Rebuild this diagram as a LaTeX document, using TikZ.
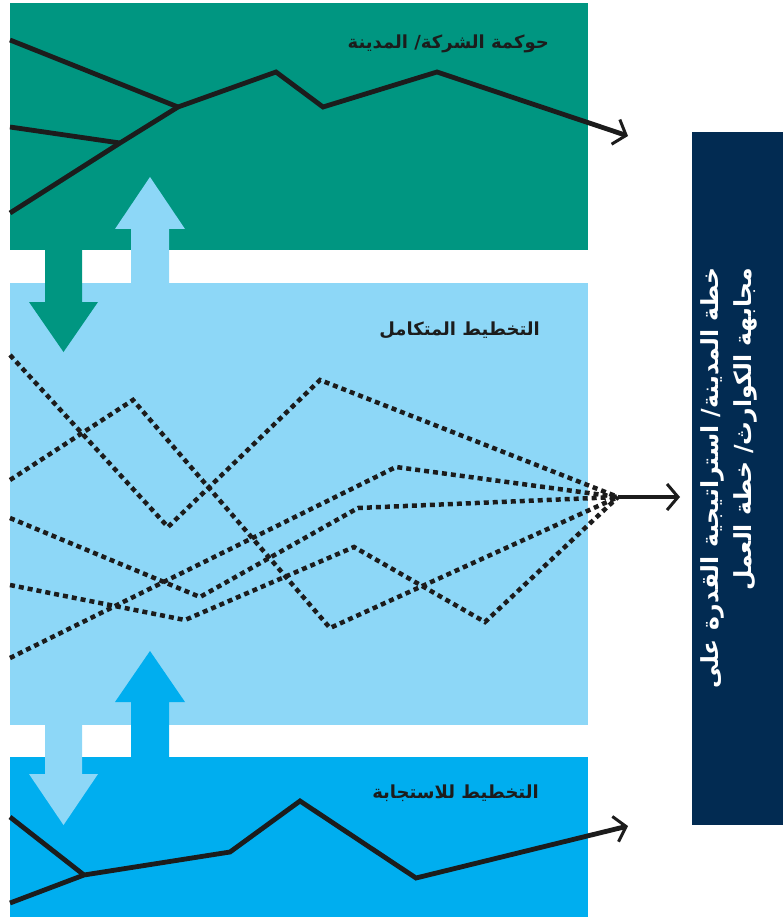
\documentclass[tikz,border=0pt]{standalone}
\usepackage{fontspec}
\usetikzlibrary{arrows.meta}
\newfontfamily\arabicfont[Script=Arabic]{DejaVu Sans}
\TeXXeTstate=1
\definecolor{govgreen}{HTML}{009681}
\definecolor{intblue}{HTML}{8DD7F7}
\definecolor{respblue}{HTML}{00AEEF}
\definecolor{navybox}{HTML}{022B52}
\definecolor{ink}{HTML}{1C1C1C}
\begin{document}
\begin{tikzpicture}[x=1pt,y=-1pt,
  solidpath/.style={draw=ink, line width=4.8pt},
  dashpath/.style={draw=ink, line width=4.5pt, dash pattern=on 5pt off 4pt},
  barbtip/.style={-{Straight Barb[length=11pt,width=26pt,line width=3pt]}},
  bandlabel/.style={font=\arabicfont\bfseries\fontsize{18}{20}\selectfont, text=ink, anchor=east, inner sep=0pt}
]
\useasboundingbox (0,0) rectangle (783,917);
% bands
\fill[govgreen] (10,3) rectangle (588,250);
\fill[intblue] (10,283) rectangle (588,725);
\fill[respblue] (10,757) rectangle (588,917);
\fill[navybox] (692,132) rectangle (783,825);
% block arrows
\fill[govgreen] (45,250) -- (82,250) -- (82,302) -- (98,302) -- (63.5,352) -- (29,302) -- (45,302) -- cycle;
\fill[intblue] (131,283) -- (169,283) -- (169,229) -- (185,229) -- (150,177) -- (115,229) -- (131,229) -- cycle;
\fill[respblue] (131,757) -- (169,757) -- (169,702) -- (185,702) -- (150,651) -- (115,702) -- (131,702) -- cycle;
\fill[intblue] (45,725) -- (82,725) -- (82,774) -- (98,774) -- (63.5,825) -- (29,774) -- (45,774) -- cycle;
% labels
\node[bandlabel] (gov) at (549,44) {\beginR حوكمة الشركة/ المدينة\endR};
\node[bandlabel] (integ) at (540,330) {\beginR التخطيط المتكامل\endR};
\node[bandlabel] (resp) at (539,793) {\beginR التخطيط للاستجابة\endR};
\node[rotate=90, text=white, align=right, inner sep=0pt,
      font=\arabicfont\bfseries\fontsize{23.5}{33}\selectfont] (plan) at (729,478)
  {\beginR خطة المدينة/ استراتيجية القدرة على\endR\\\beginR مجابهة الكوارث/ خطة العمل\endR};
% top band paths
\coordinate (tj) at (178,107);
\coordinate (tk) at (120,143);
\coordinate (tend) at (628,136);
\draw[solidpath] (10,40) -- (tj);
\draw[solidpath] (10,127) -- (tk);
\draw[solidpath, barbtip] (10,213) -- (tk) -- (tj) -- (276,72) -- (323,107) -- (437,72) -- (tend);
% middle band dashed paths
\coordinate (conv) at (618,497);
\coordinate (mend) at (680,497);
\draw[dashpath] (10,355) -- (168,527) -- (320,380) -- (conv);
\draw[dashpath] (10,480) -- (133,400) -- (330,628) -- (conv);
\draw[dashpath] (10,518) -- (200,597) -- (358,508) -- (conv);
\draw[dashpath] (10,585) -- (185,620) -- (354,547) -- (485,622) -- (conv);
\draw[dashpath] (10,658) -- (396,467) -- (conv);
\draw[solidpath, line width=4pt, barbtip] (conv) -- (mend);
% bottom band paths
\coordinate (bj) at (84,875);
\coordinate (bend) at (628,826);
\draw[solidpath] (10,817) -- (bj);
\draw[solidpath, barbtip] (10,903) -- (bj) -- (230,852) -- (300,801) -- (416,878) -- (bend);
\end{tikzpicture}
\end{document}
